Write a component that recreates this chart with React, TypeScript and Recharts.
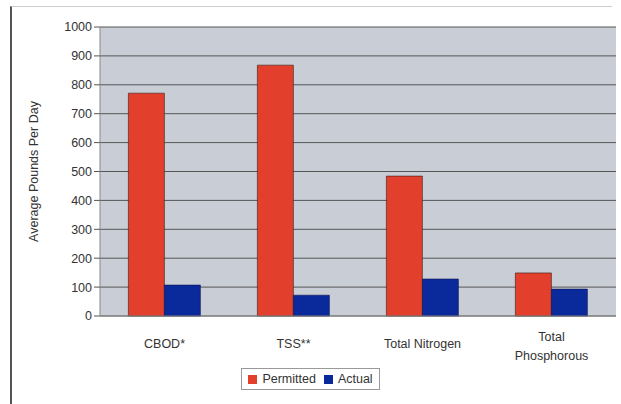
import { BarChart, Bar, XAxis, YAxis, CartesianGrid, Legend } from 'recharts';

const categories = ['CBOD*', 'TSS**', 'Total Nitrogen', 'Total Phosphorous'];
const permitted = [771, 868, 484, 149];
const actual = [107, 72, 128, 93];
const yTicks = [0, 100, 200, 300, 400, 500, 600, 700, 800, 900, 1000];

const data = categories.map((name, i) => ({ name, Permitted: permitted[i], Actual: actual[i] }));

const RED = '#e2402c';
const BLUE = '#0a2a9c';

const CategoryTick = (props: any) => {
  const { x, y, payload } = props;
  const words = payload.value === 'Total Phosphorous' ? ['Total', 'Phosphorous'] : [payload.value];
  return (
    <g transform={`translate(${x},${y})`}>
      {words.map((w: string, i: number) => (
        <text key={w} x={0} y={words.length > 1 ? 17 + i * 19 : 24} textAnchor="middle" fill="#333" fontSize={12.5} fontFamily="Liberation Sans, Arial, sans-serif">
          {w}
        </text>
      ))}
    </g>
  );
};

const LegendBox = () => (
  <div style={{ display: 'flex', justifyContent: 'center' }}>
    <div style={{ display: 'flex', alignItems: 'center', border: '1px solid #999', padding: '3px 6px', fontFamily: 'Liberation Sans, Arial, sans-serif', fontSize: 12.5, color: '#333', background: '#fff' }}>
      <span style={{ width: 9, height: 9, background: RED, display: 'inline-block', marginRight: 5 }} />
      <span style={{ marginRight: 8 }}>Permitted</span>
      <span style={{ width: 9, height: 9, background: BLUE, display: 'inline-block', marginRight: 5 }} />
      <span>Actual</span>
    </div>
  </div>
);

const App = () => {
  return (
    <div style={{ position: 'absolute', left: 0, top: 0, width: 621, height: 404, background: '#fff' }}>
      <div style={{ position: 'absolute', left: 10, top: 6, width: 600, height: 398, borderLeft: '2px solid #555', borderTop: '1px solid #ccc' }} />
      <BarChart
        width={621}
        height={404}
        data={data}
        margin={{ top: 27, right: 5, left: 20, bottom: 0 }}
        barCategoryGap="22%"
        barGap={0}
      >
        <CartesianGrid vertical={false} stroke="#555" fill="#c9cdd6" />
        <XAxis dataKey="name" tick={<CategoryTick />} tickLine={false} axisLine={{ stroke: '#888' }} height={66} interval={0} />
        <YAxis
          domain={[0, 1000]}
          ticks={yTicks}
          width={80}
          tick={{ fill: '#333', fontSize: 12.5, fontFamily: 'Liberation Sans, Arial, sans-serif' }}
          tickLine={{ stroke: '#555' }}
          axisLine={{ stroke: '#888' }}
          label={{ value: 'Average Pounds Per Day', angle: -90, position: 'insideLeft', offset: 0, dx: 14, style: { fill: '#333', fontSize: 12.5, fontFamily: 'Liberation Sans, Arial, sans-serif', textAnchor: 'middle' } }}
        />
        <Legend content={<LegendBox />} wrapperStyle={{ top: 368, left: 0, width: 621 }} />
        <Bar dataKey="Permitted" fill={RED} stroke="#3a1a14" strokeWidth={0.6} isAnimationActive={false} />
        <Bar dataKey="Actual" fill={BLUE} stroke="#0a1450" strokeWidth={0.6} isAnimationActive={false} />
      </BarChart>
    </div>
  );
};

export default App;
